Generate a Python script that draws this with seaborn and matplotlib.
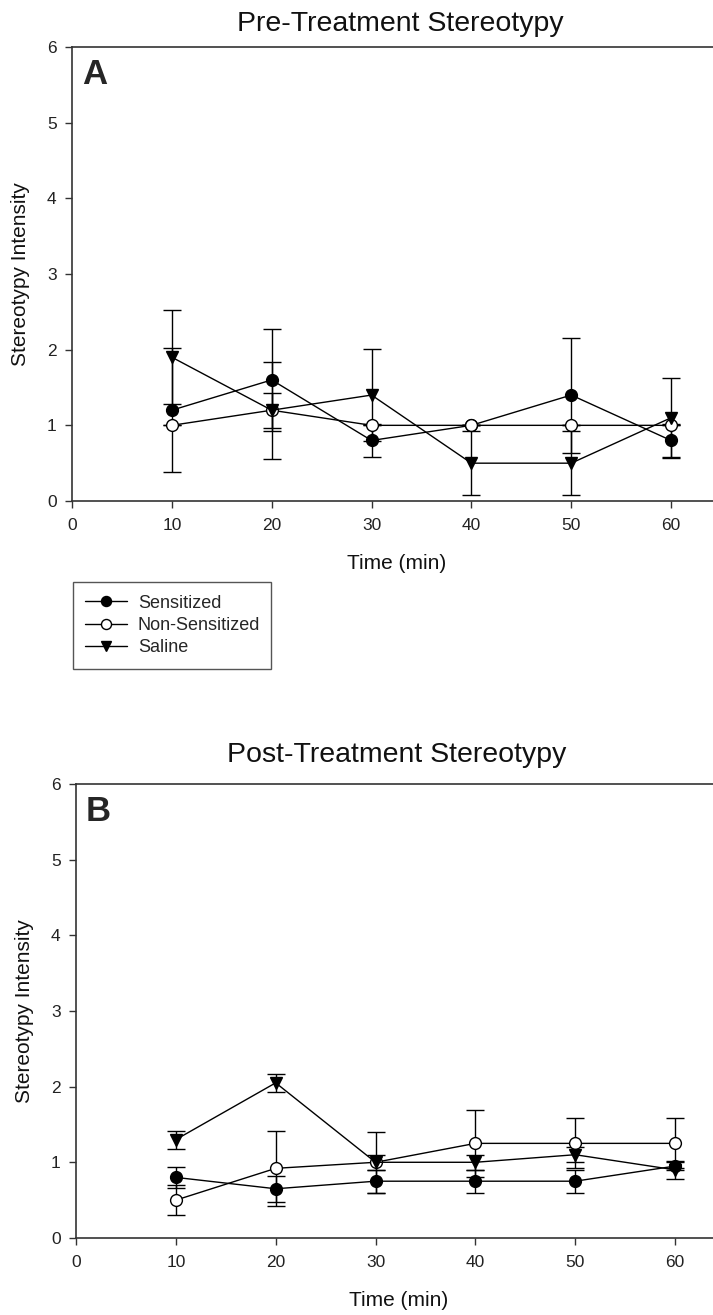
import pandas as pd
import matplotlib
matplotlib.use("Agg")
import matplotlib.pyplot as plt
import seaborn as sns

# dados
tempo = [10, 20, 30, 40, 50, 60]
grupos = ["Sensitized", "Non-Sensitized", "Saline"]

pre_sens = [1.2, 1.6, 0.8, 1.0, 1.4, 0.8]
pre_sens_err = [0.82, 0.67, 0.22, 0.0, 0.76, 0.22]
pre_non = [1.0, 1.2, 1.0, 1.0, 1.0, 1.0]
pre_non_err = [0.0, 0.23, 0.0, 0.0, 0.0, 0.0]
pre_sal = [1.9, 1.2, 1.4, 0.5, 0.5, 1.1]
pre_sal_err = [0.62, 0.64, 0.61, 0.42, 0.42, 0.53]

post_sens = [0.8, 0.65, 0.75, 0.75, 0.75, 0.95]
post_sens_err = [0.14, 0.17, 0.15, 0.15, 0.15, 0.05]
post_non = [0.5, 0.92, 1.0, 1.25, 1.25, 1.25]
post_non_err = [0.2, 0.5, 0.4, 0.44, 0.33, 0.33]
post_sal = [1.3, 2.05, 1.0, 1.0, 1.1, 0.9]
post_sal_err = [0.12, 0.12, 0.1, 0.1, 0.1, 0.12]

estilos = {
    "Sensitized": dict(marker="o", mfc="black"),
    "Non-Sensitized": dict(marker="o", mfc="white"),
    "Saline": dict(marker="v", mfc="black"),
}

sns.set_style("ticks")
plt.rcParams["font.family"] = ["Liberation Sans", "DejaVu Sans"]

fig = plt.figure(figsize=(7.13, 13.15), dpi=100)
ax_a = fig.add_axes([0.101, 0.619, 0.899, 0.3453])
ax_b = fig.add_axes([0.1066, 0.0586, 0.8934, 0.3452])


def desenha(ax, medias, erros, xmax, letra, titulo, tx, ty, letra_y):
    for g, m, e in zip(grupos, medias, erros):
        df = pd.DataFrame({"tempo": tempo, "valor": m})
        ax.errorbar(tempo, m, yerr=e, fmt="none", ecolor="black",
                    elinewidth=1.0, capsize=6.5, capthick=1.0, zorder=2)
        sns.lineplot(data=df, x="tempo", y="valor", ax=ax, color="black",
                     linewidth=1.0, marker=estilos[g]["marker"],
                     markerfacecolor=estilos[g]["mfc"], markeredgecolor="black",
                     markeredgewidth=1.0, markersize=8.5, label=g, zorder=3,
                     legend=False)
    ax.set_xlim(0, xmax)
    ax.set_ylim(0, 6)
    ax.set_xticks([0, 10, 20, 30, 40, 50, 60])
    ax.set_yticks([0, 1, 2, 3, 4, 5, 6])
    ax.tick_params(axis="both", labelsize=12.5, length=5, width=1.0,
                   color="#333333", labelcolor="#222222")
    ax.tick_params(axis="x", pad=7)
    ax.tick_params(axis="y", pad=6)
    for s in ["left", "bottom", "top"]:
        ax.spines[s].set_linewidth(1.2)
        ax.spines[s].set_color("#333333")
    ax.spines["right"].set_visible(False)
    ax.set_xlabel("Time (min)", fontsize=15, color="#111111")
    ax.set_ylabel("Stereotypy Intensity", fontsize=15, color="#111111")
    ax.xaxis.set_label_coords(0.507, -0.117)
    ax.yaxis.set_label_coords(-0.066, 0.5)
    ax.text(0.0156, letra_y, letra, transform=ax.transAxes, fontsize=25,
            fontweight="bold", ha="left", va="top")
    fig.text(tx, ty, titulo, fontsize=20.5, ha="center", va="center",
             color="#111111")


desenha(ax_a, [pre_sens, pre_non, pre_sal],
        [pre_sens_err, pre_non_err, pre_sal_err], 64.2, "A",
        "Pre-Treatment Stereotypy", 0.561, 0.9815, 0.975)
desenha(ax_b, [post_sens, post_non, post_sal],
        [post_sens_err, post_non_err, post_sal_err], 63.8, "B",
        "Post-Treatment Stereotypy", 0.557, 0.4255, 0.975)

handles, labels = ax_a.get_legend_handles_labels()
leg = fig.legend(handles, labels, loc="upper left",
                 bbox_to_anchor=(0.102, 0.4882, 0.278, 0.0692), mode="expand",
                 fontsize=13, frameon=True, fancybox=False, framealpha=1,
                 edgecolor="#555555", borderpad=0.7, labelspacing=0.3,
                 handlelength=2.3, handletextpad=0.6, borderaxespad=0,
                 markerscale=0.85)
leg.get_frame().set_linewidth(1.0)

fig.savefig("out.png", dpi=100)
